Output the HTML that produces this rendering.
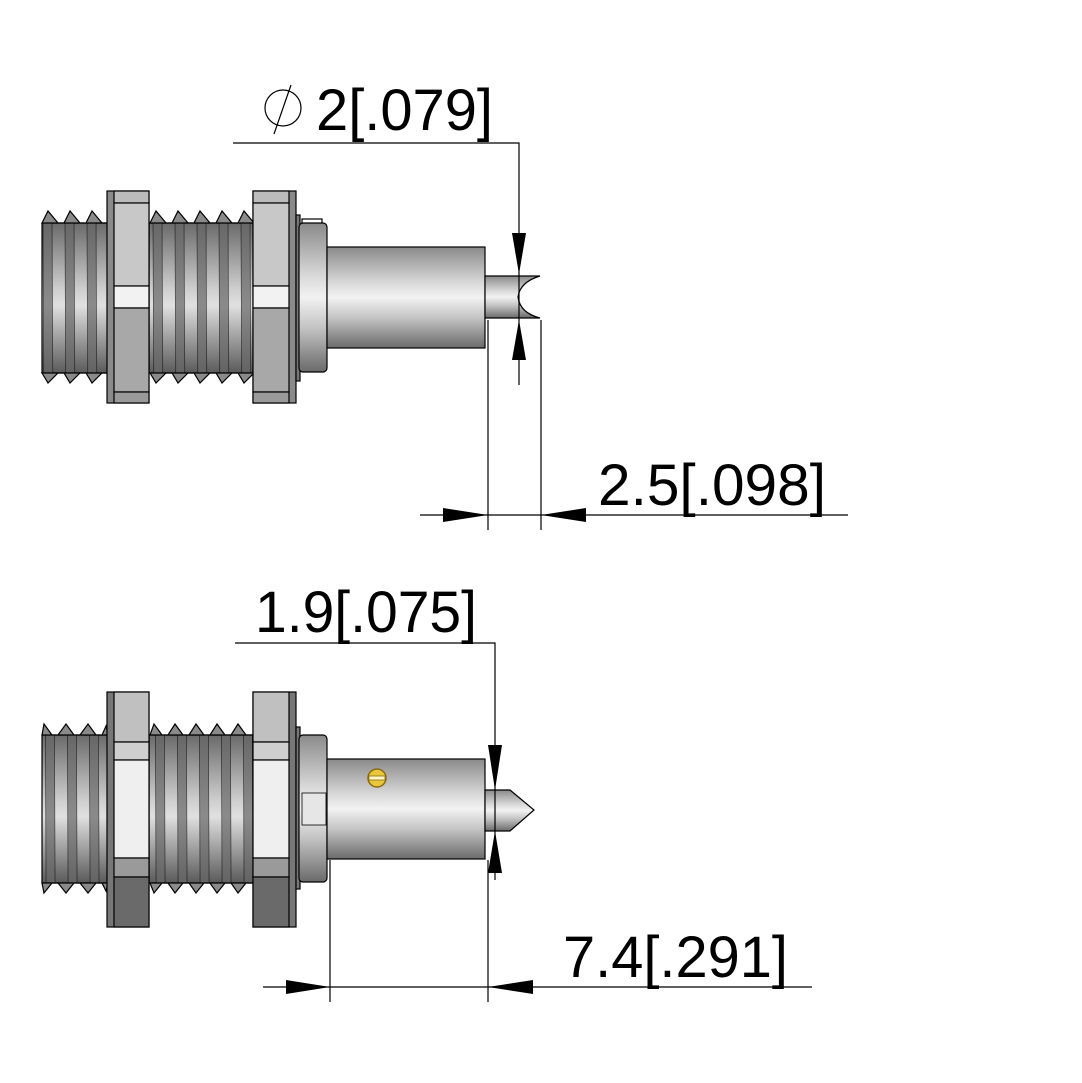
<!DOCTYPE html>
<html><head><meta charset="utf-8"><style>html,body{margin:0;padding:0;background:#fff}svg{display:block}</style></head>
<body>
<svg width="1082" height="1083" viewBox="0 0 1082 1083" xmlns="http://www.w3.org/2000/svg">
<defs>
<linearGradient id="cyl" x1="0" y1="0" x2="0" y2="1">
<stop offset="0" stop-color="#8a8a8a"/><stop offset="0.35" stop-color="#d8d8d8"/><stop offset="0.5" stop-color="#f2f2f2"/><stop offset="0.7" stop-color="#c4c4c4"/><stop offset="1" stop-color="#6a6a6a"/></linearGradient>
<linearGradient id="thr" x1="0" y1="0" x2="0" y2="1">
<stop offset="0" stop-color="#6a6a6a"/><stop offset="0.45" stop-color="#d0d0d0"/><stop offset="0.55" stop-color="#e0e0e0"/><stop offset="1" stop-color="#5a5a5a"/></linearGradient>
<pattern id="stripes" x="42" y="0" width="22" height="1083" patternUnits="userSpaceOnUse">
<polygon points="0,0 9,0 14,1083 5,1083" fill="#666"/>
<line x1="0" y1="0" x2="5" y2="1083" stroke="#111" stroke-width="0.8"/>
<line x1="9" y1="0" x2="14" y2="1083" stroke="#111" stroke-width="0.8"/>
</pattern>
</defs>
<g stroke="#000" stroke-width="1.2">
<!-- ===== TOP ===== -->
<g>
<rect x="42" y="223" width="66" height="150" fill="url(#thr)"/>
<rect x="42" y="223" width="66" height="150" fill="url(#stripes)" opacity="0.7" stroke="none"/>
<rect x="149" y="223" width="105" height="150" fill="url(#thr)"/>
<rect x="149" y="223" width="105" height="150" fill="url(#stripes)" opacity="0.7" stroke="none"/>
<path d="M42,223 L48,211 L58,223 L64,223 L70,211 L80,223 L86,223 L92,211 L102,223 L108,223 Z" fill="#8a8a8a"/>
<path d="M150,223 L156,211 L166,223 L172,223 L178,211 L188,223 L194,223 L200,211 L210,223 L216,223 L222,211 L232,223 L238,223 L244,211 L254,223 Z" fill="#8a8a8a"/>
<path d="M42,373 L48,383 L58,373 L64,373 L70,383 L80,373 L86,373 L92,383 L102,373 L108,373 Z" fill="#8a8a8a"/>
<path d="M150,373 L156,383 L166,373 L172,373 L178,383 L188,373 L194,373 L200,383 L210,373 L216,373 L222,383 L232,373 L238,373 L244,383 L254,373 Z" fill="#8a8a8a"/>
<g>
<rect x="107" y="191" width="42" height="212" fill="#8a8a8a"/>
<rect x="114" y="191" width="35" height="12" fill="#bcbcbc"/>
<rect x="114" y="203" width="35" height="83" fill="#c8c8c8"/>
<rect x="114" y="286" width="35" height="22" fill="#f2f2f2"/>
<rect x="114" y="308" width="35" height="84" fill="#a8a8a8"/>
<rect x="114" y="392" width="35" height="11" fill="#9a9a9a"/>
</g>
<g>
<rect x="253" y="191" width="43" height="212" fill="#8a8a8a"/>
<rect x="253" y="191" width="36" height="12" fill="#bcbcbc"/>
<rect x="253" y="203" width="36" height="83" fill="#c8c8c8"/>
<rect x="253" y="286" width="36" height="22" fill="#f2f2f2"/>
<rect x="253" y="308" width="36" height="84" fill="#a8a8a8"/>
<rect x="253" y="392" width="36" height="11" fill="#9a9a9a"/>
</g>
<rect x="296" y="215" width="4" height="166" fill="#777"/>
<rect x="302" y="219" width="20" height="6" fill="#fff"/>
<rect x="299" y="223" width="28" height="149" rx="4" fill="url(#cyl)"/>
<rect x="327" y="247" width="158" height="101" fill="url(#cyl)"/>
<path d="M485,276 L540,276 Q520,282 518,297 Q520,313 540,318 L485,318 Z" fill="url(#cyl)"/>
</g>
<!-- ===== BOTTOM ===== -->
<g>
<rect x="42" y="735" width="66" height="148" fill="url(#thr)"/>
<rect x="42" y="735" width="66" height="148" fill="url(#stripes)" opacity="0.7" stroke="none"/>
<rect x="149" y="735" width="105" height="148" fill="url(#thr)"/>
<rect x="149" y="735" width="105" height="148" fill="url(#stripes)" opacity="0.7" stroke="none"/>
<path d="M42,735 L44,724 L52,735 L58,735 L66,724 L74,735 L80,735 L88,724 L96,735 L102,735 L106,726 L108,735 Z" fill="#8a8a8a"/>
<path d="M150,735 L154,724 L162,735 L168,735 L175,724 L183,735 L189,735 L196,724 L204,735 L210,735 L217,724 L225,735 L231,735 L238,724 L246,735 L254,735 Z" fill="#8a8a8a"/>
<path d="M42,883 L44,893 L52,883 L58,883 L66,893 L74,883 L80,883 L88,893 L96,883 L102,883 L106,891 L108,883 Z" fill="#8a8a8a"/>
<path d="M150,883 L154,893 L162,883 L168,883 L175,893 L183,883 L189,883 L196,893 L204,883 L210,883 L217,893 L225,883 L231,883 L238,893 L246,883 L254,883 Z" fill="#8a8a8a"/>
<g>
<rect x="107" y="692" width="42" height="235" fill="#777"/>
<rect x="114" y="692" width="35" height="50" fill="#c0c0c0"/>
<rect x="114" y="742" width="35" height="18" fill="#cfcfcf"/>
<rect x="114" y="760" width="35" height="98" fill="#efefef"/>
<rect x="114" y="858" width="35" height="19" fill="#9a9a9a"/>
<rect x="114" y="877" width="35" height="50" fill="#6a6a6a"/>
</g>
<g>
<rect x="253" y="692" width="43" height="235" fill="#777"/>
<rect x="253" y="692" width="36" height="50" fill="#c0c0c0"/>
<rect x="253" y="742" width="36" height="18" fill="#cfcfcf"/>
<rect x="253" y="760" width="36" height="98" fill="#efefef"/>
<rect x="253" y="858" width="36" height="19" fill="#9a9a9a"/>
<rect x="253" y="877" width="36" height="50" fill="#6a6a6a"/>
</g>
<rect x="296" y="727" width="4" height="162" fill="#777"/>
<rect x="299" y="735" width="28" height="147" rx="4" fill="url(#cyl)"/>
<rect x="302" y="793" width="24" height="32" fill="#e6e6e6" stroke-width="0.8"/>
<rect x="327" y="759" width="158" height="100" fill="url(#cyl)"/>
<path d="M485,790 L510,790 L534,810 L510,831 L485,831 Z" fill="url(#cyl)"/>
<circle cx="377" cy="778" r="9" fill="#e8c83a" stroke="#8a6a10" stroke-width="1.5"/>
<rect x="369" y="776" width="16" height="4" fill="#fff6c0" stroke="#8a6a10" stroke-width="0.8"/>
</g>
</g>
<!-- ===== DIMENSIONS ===== -->
<g stroke="#000" stroke-width="1.2" fill="none">
<polyline points="233,143 519,143 519,385"/>
<line x1="488" y1="320" x2="488" y2="530"/>
<line x1="541" y1="320" x2="541" y2="530"/>
<line x1="420" y1="515" x2="848" y2="515"/>
<polyline points="235,643 495,643 495,880"/>
<line x1="330" y1="860" x2="330" y2="1002"/>
<line x1="488" y1="860" x2="488" y2="1002"/>
<line x1="263" y1="987" x2="812" y2="987"/>
<circle cx="283" cy="108" r="18"/>
<line x1="291" y1="85" x2="274" y2="134"/>
</g>
<g fill="#000">
<polygon points="512,233 526,233 519,274"/>
<polygon points="512,360 526,360 519,320"/>
<polygon points="443,508 443,522 488,515"/>
<polygon points="586,508 586,522 541,515"/>
<polygon points="488,745 502,745 495,790"/>
<polygon points="488,873 502,873 495,831"/>
<polygon points="286,980 286,994 330,987"/>
<polygon points="533,980 533,994 488,987"/>
</g>
<g font-family="'Liberation Sans', sans-serif" font-size="58" fill="#000">
<text x="316" y="130" textLength="177" lengthAdjust="spacingAndGlyphs">2[.079]</text>
<text x="598" y="505" textLength="228" lengthAdjust="spacingAndGlyphs">2.5[.098]</text>
<text x="255" y="632" textLength="222" lengthAdjust="spacingAndGlyphs">1.9[.075]</text>
<text x="563" y="977" textLength="225" lengthAdjust="spacingAndGlyphs">7.4[.291]</text>
</g>
</svg>
</body></html>
